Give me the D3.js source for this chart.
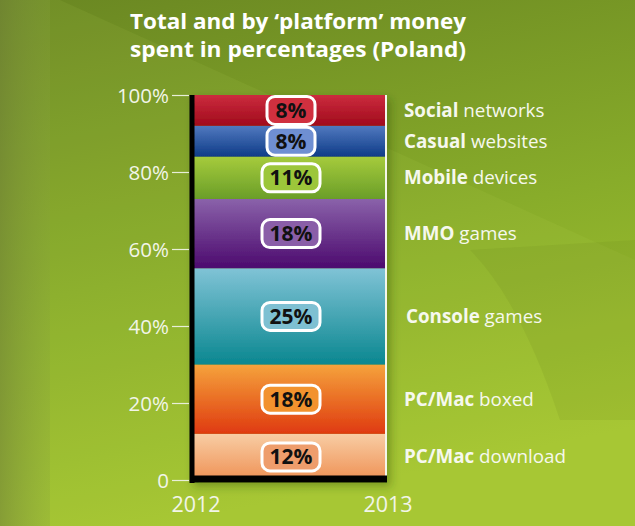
<!DOCTYPE html>
<html>
<head>
<meta charset="utf-8">
<script src="https://cdn.jsdelivr.net/npm/d3@7"></script>
<style>
  html, body { margin: 0; padding: 0; background: #8aa82a; }
  svg { display: block; }
</style>
</head>
<body>
<div id="chart"></div>
<script>
// data, bottom to top
const categories = ["PC/Mac download", "PC/Mac boxed", "Console games", "MMO games", "Mobile devices", "Casual websites", "Social networks"];
const boldNames = ["PC/Mac", "PC/Mac", "Console", "MMO", "Mobile", "Casual", "Social"];
const restNames = ["download", "boxed", "games", "games", "devices", "websites", "networks"];
const shares = [12, 18, 25, 18, 11, 8, 8];
const years = ["2012", "2013"];
const tickValues = [0, 20, 40, 60, 80, 100];

// top / bottom gradient colours and label box fill
const topColors = ["#f8cda4", "#f5a33c", "#80c3d6", "#8a62aa", "#a6cb3c", "#5079bf", "#cc2c3e"];
const bottomColors = ["#ef9256", "#df3a10", "#0a8790", "#4c0a6e", "#6a9e28", "#0f3c88", "#a00a1c"];
const boxColors = ["#ee9d6c", "#f2922e", "#7ec0d2", "#8a5ea8", "#9cc63a", "#6f8fd2", "#d0303f"];

const W = 635, H = 526;

const svg = d3.select("#chart").append("svg")
    .attr("width", W)
    .attr("height", H)
    .attr("font-family", "'Open Sans', sans-serif");

const defs = svg.append("defs");

// background
const bg = defs.append("linearGradient").attr("id", "bg")
    .attr("x1", 0).attr("y1", 0).attr("x2", 0.25).attr("y2", 1);
bg.append("stop").attr("offset", "0%").attr("stop-color", "#6a8722");
bg.append("stop").attr("offset", "55%").attr("stop-color", "#88ac2a");
bg.append("stop").attr("offset", "100%").attr("stop-color", "#a4c530");

svg.append("rect").attr("width", W).attr("height", H).attr("fill", "url(#bg)");

// soft decorative panes
svg.append("path")
    .attr("d", "M0,0 L60,0 L635,260 L635,526 L0,526 Z")
    .attr("fill", "#c8e060").attr("opacity", 0.08);
svg.append("path")
    .attr("d", "M470,250 Q520,300 560,420 L635,420 L635,240 Z")
    .attr("fill", "#5f7f1c").attr("opacity", 0.12);
const leftStrip = defs.append("linearGradient").attr("id", "leftStrip")
    .attr("x1", 0).attr("y1", 0).attr("x2", 1).attr("y2", 0);
leftStrip.append("stop").attr("offset", "0%").attr("stop-color", "#6e7e38").attr("stop-opacity", 0.55);
leftStrip.append("stop").attr("offset", "100%").attr("stop-color", "#86a040").attr("stop-opacity", 0.25);
svg.append("rect").attr("x", 0).attr("y", 0).attr("width", 50).attr("height", H)
    .attr("fill", "url(#leftStrip)");

// title
const title = svg.append("text")
    .attr("text-anchor", "middle")
    .attr("fill", "#ffffff")
    .attr("font-weight", "bold")
    .attr("font-size", 22);
title.append("tspan").attr("x", 298).attr("y", 29)
    .attr("textLength", 336).attr("lengthAdjust", "spacingAndGlyphs")
    .text("Total and by ‘platform’ money");
title.append("tspan").attr("x", 298).attr("y", 57)
    .attr("textLength", 336).attr("lengthAdjust", "spacingAndGlyphs")
    .text("spent in percentages (Poland)");

// scales
const y = d3.scaleLinear().domain([0, 100]).range([480, 95]);
const x = d3.scalePoint().domain(years).range([193, 385]);

// stack
const row = {};
categories.forEach((c, i) => { row[c] = shares[i]; });
const stacked = d3.stack().keys(categories)([row]);

categories.forEach((c, i) => {
  const g = defs.append("linearGradient").attr("id", "seg" + i)
      .attr("x1", 0).attr("y1", 0).attr("x2", 0).attr("y2", 1);
  g.append("stop").attr("offset", "0%").attr("stop-color", topColors[i]);
  g.append("stop").attr("offset", "100%").attr("stop-color", bottomColors[i]);
});

const shadow = defs.append("filter").attr("id", "shadow")
    .attr("x", "-10%").attr("y", "-10%").attr("width", "130%").attr("height", "130%");
shadow.append("feDropShadow").attr("dx", 4).attr("dy", 4).attr("stdDeviation", 4)
    .attr("flood-color", "#2e4010").attr("flood-opacity", 0.35);

const bars = svg.append("g").attr("filter", "url(#shadow)");

bars.selectAll("rect.seg")
  .data(stacked)
  .join("rect")
    .attr("class", "seg")
    .attr("x", x("2012"))
    .attr("width", x("2013") - x("2012"))
    .attr("y", d => y(d[0][1]))
    .attr("height", d => y(d[0][0]) - y(d[0][1]))
    .attr("fill", (d, i) => `url(#seg${i})`);

// right white edge
bars.append("line")
    .attr("x1", x("2013") + 1).attr("x2", x("2013") + 1)
    .attr("y1", y(100)).attr("y2", y(0))
    .attr("stroke", "#f4f6ea").attr("stroke-width", 2);

// left axis line and base
bars.append("line")
    .attr("x1", x("2012") - 1).attr("x2", x("2012") - 1)
    .attr("y1", y(100)).attr("y2", y(0) + 3)
    .attr("stroke", "#000").attr("stroke-width", 5);
bars.append("line")
    .attr("x1", x("2012") - 3).attr("x2", x("2013") + 2)
    .attr("y1", y(0) - 1).attr("y2", y(0) - 1)
    .attr("stroke", "#000").attr("stroke-width", 7);

// value boxes
const labels = svg.append("g");
const cx = 291;
stacked.forEach((s, i) => {
  const mid = y((s[0][0] + s[0][1]) / 2);
  const txt = shares[i] + "%";
  const bw = txt.length > 2 ? 58 : 48;
  labels.append("rect")
      .attr("x", cx - bw / 2).attr("y", mid - 14)
      .attr("width", bw).attr("height", 28)
      .attr("rx", 8)
      .attr("fill", boxColors[i])
      .attr("stroke", "#ffffff").attr("stroke-width", 3);
  labels.append("text")
      .attr("x", cx).attr("y", mid + 7.5)
      .attr("text-anchor", "middle")
      .attr("font-weight", "bold")
      .attr("font-size", 21)
      .attr("fill", "#111")
      .text(txt);
});

// y axis
const axis = svg.append("g")
    .attr("transform", "translate(189,0)")
    .call(d3.axisLeft(y).tickValues(tickValues).tickSize(17).tickPadding(3)
      .tickFormat(d => d === 0 ? "0" : d + "%"));
axis.select(".domain").remove();
axis.selectAll(".tick line").attr("stroke", "#e8eed8").attr("stroke-width", 1.2);
axis.selectAll(".tick text")
    .attr("fill", "#f2f5e8")
    .attr("font-size", 20.5)
    .attr("font-family", "'Open Sans', sans-serif")
    .attr("dy", "0.35em");

// year labels
svg.append("g").selectAll("text")
  .data(years)
  .join("text")
    .attr("x", d => x(d) + 3)
    .attr("y", 512)
    .attr("text-anchor", "middle")
    .attr("fill", "#f2f5e8")
    .attr("font-size", 21.5)
    .text(d => d);

// legend
const legend = svg.append("g");
stacked.forEach((s, i) => {
  const mid = y((s[0][0] + s[0][1]) / 2);
  const t = legend.append("text")
      .attr("x", i === 2 ? 406 : 404)
      .attr("y", mid + 6.5)
      .attr("fill", "#f6f8ee")
      .attr("font-size", 18.8);
  t.append("tspan").attr("font-weight", "bold").text(boldNames[i]);
  t.append("tspan").text(" " + restNames[i]);
});
</script>
</body>
</html>
